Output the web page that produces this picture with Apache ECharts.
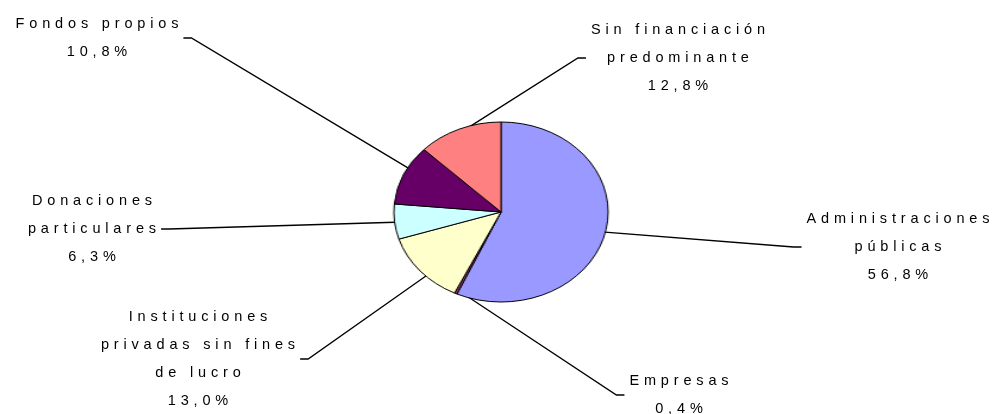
<!DOCTYPE html>
<html>
<head>
<meta charset="utf-8">
<script src="https://cdn.jsdelivr.net/npm/echarts@6.0.0/dist/echarts.min.js"></script>
<style>
  html, body { margin: 0; padding: 0; background: #fff; }
  .wrap { position: relative; width: 995px; height: 414px; overflow: hidden; }
  .layer { position: absolute; left: 0; top: 0; width: 995px; height: 414px; }
  /* the pie in the picture is an ellipse, so the slice layer is stretched sideways */
  #pieDom { transform-origin: 501px 212px; transform: scaleX(1.19); pointer-events: none; }
</style>
</head>
<body>
<div class="wrap">
  <div class="layer" id="labelDom"></div>
  <div class="layer" id="pieDom"></div>
</div>
<script>
const names = [
  'Administraciones\npúblicas',
  'Empresas',
  'Instituciones\nprivadas sin fines\nde lucro',
  'Donaciones\nparticulares',
  'Fondos propios',
  'Sin financiación\npredominante'
];
const values = [56.8, 0.4, 13.0, 6.3, 10.8, 12.8];
const colors = ['#9999FF', '#993366', '#FFFFCC', '#CCFFFF', '#660066', '#FF8080'];

// label block centres (layout only)
const labelPos = [[898, 247], [679, 395], [198, 359], [92, 229], [97, 38], [678, 58]];

const center = [501, 212];
const radius = 90;

// wide letter spacing like the original
const spaced = s => s.split('\n').map(l => l.split('').join('\u2004')).join('\n');

const pieData = names.map((n, i) => ({name: n, value: values[i], itemStyle: {color: colors[i]}}));

const labelChart = echarts.init(document.getElementById('labelDom'));
labelChart.setOption({
  backgroundColor: 'transparent',
  animation: false,
  series: [{
    type: 'pie',
    center: center,
    radius: radius,
    startAngle: 90,
    clockwise: true,
    silent: true,
    data: names.map((n, i) => ({name: n, value: values[i]})),
    itemStyle: {color: 'rgba(0,0,0,0)', borderWidth: 0},
    label: {
      show: true,
      position: 'outside',
      color: '#000',
      fontFamily: '"Liberation Sans", Arial, sans-serif',
      fontSize: 14.5,
      lineHeight: 28,
      padding: [0, 5],
      formatter(p) {
        return spaced(p.name + '\n' + p.value.toFixed(1).replace('.', ',') + '%');
      },
    },
    labelLine: {
      show: true,
      length: 20,
      length2: 8,
      minTurnAngle: 0,
      lineStyle: {color: '#000', width: 1.3},
    },
    labelLayout(params) {
      const p = labelPos[params.dataIndex];
      return {x: p[0], y: p[1], align: 'center', verticalAlign: 'middle', hideOverlap: false, moveOverlap: false};
    },
  }],
});

const pieChart = echarts.init(document.getElementById('pieDom'));
pieChart.setOption({
  backgroundColor: 'transparent',
  animation: false,
  series: [{
    type: 'pie',
    center: center,
    radius: radius,
    startAngle: 90,
    clockwise: true,
    silent: true,
    data: pieData,
    itemStyle: {borderColor: '#000', borderWidth: 1},
    label: {show: false},
    labelLine: {show: false},
  }],
});
</script>
</body>
</html>
